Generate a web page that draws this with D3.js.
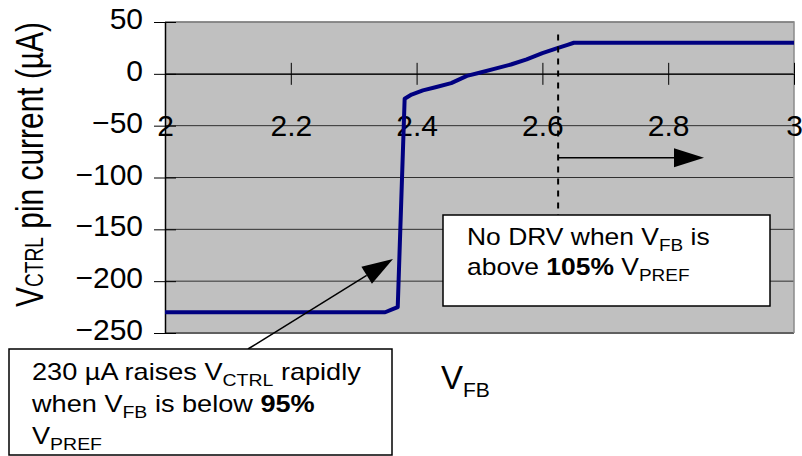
<!DOCTYPE html>
<html>
<head>
<meta charset="utf-8">
<script src="https://cdn.jsdelivr.net/npm/d3@7"></script>
<style>
  body { margin: 0; background: #fff; }
  svg { display: block; }
  text { font-family: "Liberation Sans", Arial, Helvetica, sans-serif; fill: #000; }
</style>
</head>
<body>
<svg id="chart" width="802" height="456"></svg>
<script>
// V_CTRL pin current versus V_FB
const vfb     = [2.000, 2.350, 2.362, 2.370, 2.381, 2.392, 2.410, 2.430, 2.455, 2.480, 2.500, 2.525, 2.550, 2.575, 2.600, 2.625, 2.640, 2.650, 3.000];
const current = [-230,  -230,  -227,  -225,  -24,   -20,   -16,   -13,   -9,    -2,    1,     5,     9,     14,    20,    25,    28,    30,    30];

const xTicks = [2, 2.2, 2.4, 2.6, 2.8, 3];
const xTickLabels = ["2", "2.2", "2.4", "2.6", "2.8", "3"];
const yTicks = [50, 0, -50, -100, -150, -200, -250];
const yTickLabels = ["50", "0", "\u221250", "\u2212100", "\u2212150", "\u2212200", "\u2212250"];

const vpref = 2.5;
const upperLimit = 1.05 * vpref;   // DRV stops above 105 % of VPREF

const svg = d3.select("#chart");
const plotL = 165, plotR = 794, plotT = 22, plotB = 333;

const x = d3.scaleLinear().domain([2, 3]).range([plotL, plotR]);
const y = d3.scaleLinear().domain([-250, 50]).range([plotB, plotT]);

// plot background
svg.append("rect")
  .attr("x", plotL).attr("y", plotT)
  .attr("width", plotR - plotL).attr("height", plotB - plotT)
  .attr("fill", "#c0c0c0");

// horizontal grid lines
svg.append("g").selectAll("line").data(yTicks).join("line")
  .attr("x1", plotL).attr("x2", plotR)
  .attr("y1", d => y(d)).attr("y2", d => y(d))
  .attr("stroke", d => d === -250 ? "#606060" : "#303030")
  .attr("stroke-width", d => d === -250 ? 2 : 1);

// top / right frame
svg.append("path")
  .attr("d", `M${plotL},${plotT}H${plotR}V${plotB}`)
  .attr("fill", "none").attr("stroke", "#8a8a8a").attr("stroke-width", 1.5);

// y axis
const yAxis = d3.axisLeft(y)
  .tickValues(yTicks)
  .tickSize(11).tickSizeOuter(0).tickPadding(11)
  .tickFormat((d, i) => yTickLabels[i]);
const gy = svg.append("g").attr("transform", `translate(${plotL},0)`).call(yAxis);
gy.select(".domain").attr("stroke", "#000").attr("stroke-width", 1.5);
gy.selectAll(".tick line").attr("stroke", "#000");
gy.selectAll(".tick text").attr("font-size", 30).attr("dy", "0.22em")
  .style("font-family", "'Liberation Sans', Arial, sans-serif");
gy.selectAll(".tick").append("line").attr("x2", 11).attr("stroke", "#000");

// x axis drawn along the zero line
const xAxis = d3.axisBottom(x)
  .tickValues(xTicks)
  .tickSize(11).tickSizeOuter(0).tickPadding(30)
  .tickFormat((d, i) => xTickLabels[i]);
const gx = svg.append("g").attr("transform", `translate(0,${y(0)})`).call(xAxis);
gx.select(".domain").attr("stroke", "#000");
gx.selectAll(".tick line").attr("stroke", "#000");
gx.selectAll(".tick text").attr("font-size", 30)
  .style("font-family", "'Liberation Sans', Arial, sans-serif");
gx.selectAll(".tick").append("line").attr("y2", -11).attr("stroke", "#000");

// current curve
const pts = vfb.map((v, i) => [v, current[i]]);
svg.append("path")
  .datum(pts)
  .attr("d", d3.line().x(d => x(d[0])).y(d => y(d[1])))
  .attr("fill", "none")
  .attr("stroke", "#000080")
  .attr("stroke-width", 4)
  .attr("stroke-linejoin", "round");

// 105 % threshold marker
const box1 = { x: 443, y: 215, w: 327, h: 91 };
svg.append("line")
  .attr("x1", x(upperLimit)).attr("x2", x(upperLimit))
  .attr("y1", y(38)).attr("y2", box1.y)
  .attr("stroke", "#000").attr("stroke-width", 2)
  .attr("stroke-dasharray", "6,6");

function arrow(x1, y1, x2, y2, len, half) {
  const dx = x2 - x1, dy = y2 - y1, L = Math.hypot(dx, dy);
  const ux = dx / L, uy = dy / L;
  const bx = x2 - ux * len, by = y2 - uy * len;
  svg.append("line")
    .attr("x1", x1).attr("y1", y1).attr("x2", bx).attr("y2", by)
    .attr("stroke", "#000").attr("stroke-width", 1.5);
  svg.append("path")
    .attr("d", `M${x2},${y2}L${bx - uy * half},${by + ux * half}L${bx + uy * half},${by - ux * half}Z`)
    .attr("fill", "#000");
}

// "no drive" region arrow
arrow(x(upperLimit), y(-81), 704, y(-81), 30, 9.5);

// rapid-rise arrow
arrow(248, 349, 393, 259, 31, 10);

// annotation boxes
function textLine(g, xPos, yPos, parts) {
  const t = g.append("text").attr("x", xPos).attr("y", yPos).attr("font-size", 23);
  let shifted = false;
  parts.forEach(p => {
    const ts = t.append("tspan").text(p.t);
    if (p.sub) { ts.attr("font-size", 16.5).attr("dy", 6.5); shifted = true; }
    else if (shifted) { ts.attr("dy", -6.5); shifted = false; }
    if (p.b) ts.attr("font-weight", "bold");
  });
  return t;
}

const g1 = svg.append("g");
g1.append("rect").attr("x", box1.x).attr("y", box1.y).attr("width", box1.w).attr("height", box1.h)
  .attr("fill", "#fff").attr("stroke", "#000").attr("stroke-width", 1.5);
const t1 = g1.append("g").attr("transform", "translate(467,0) scale(1.15,1)");
textLine(t1, 0, 245, [{t: "No DRV when V"}, {t: "FB", sub: true}, {t: " is"}]);
textLine(t1, 0, 275, [{t: "above "}, {t: "105%", b: true}, {t: " V"}, {t: "PREF", sub: true}]);

const box2 = { x: 9, y: 349, w: 383, h: 106 };
const g2 = svg.append("g");
g2.append("rect").attr("x", box2.x).attr("y", box2.y).attr("width", box2.w).attr("height", box2.h)
  .attr("fill", "#fff").attr("stroke", "#000").attr("stroke-width", 1.5);
const t2 = g2.append("g").attr("transform", "translate(32,0) scale(1.18,1)");
textLine(t2, 0, 380, [{t: "230 \u00b5A raises V"}, {t: "CTRL", sub: true}, {t: " rapidly"}]);
textLine(t2, 0, 412, [{t: "when V"}, {t: "FB", sub: true}, {t: " is below "}, {t: "95%", b: true}]);
textLine(t2, 0, 444, [{t: "V"}, {t: "PREF", sub: true}]);

// axis titles
const xt = svg.append("text").attr("x", 441).attr("y", 389).attr("font-size", 33);
xt.append("tspan").text("V");
xt.append("tspan").text("FB").attr("font-size", 21).attr("dy", 8);

const yt = svg.append("g").attr("transform", "translate(43,164.5) rotate(-90)");
const ytt = yt.append("text").attr("text-anchor", "middle").attr("font-size", 39);
ytt.append("tspan").text("V");
ytt.append("tspan").text("CTRL").attr("font-size", 25).attr("dy", 0);
ytt.append("tspan").text(" pin current (\u00b5A)").attr("dy", 0);
const len = ytt.node().getComputedTextLength();
ytt.attr("transform", `scale(${285 / len},1)`);
</script>
</body>
</html>
